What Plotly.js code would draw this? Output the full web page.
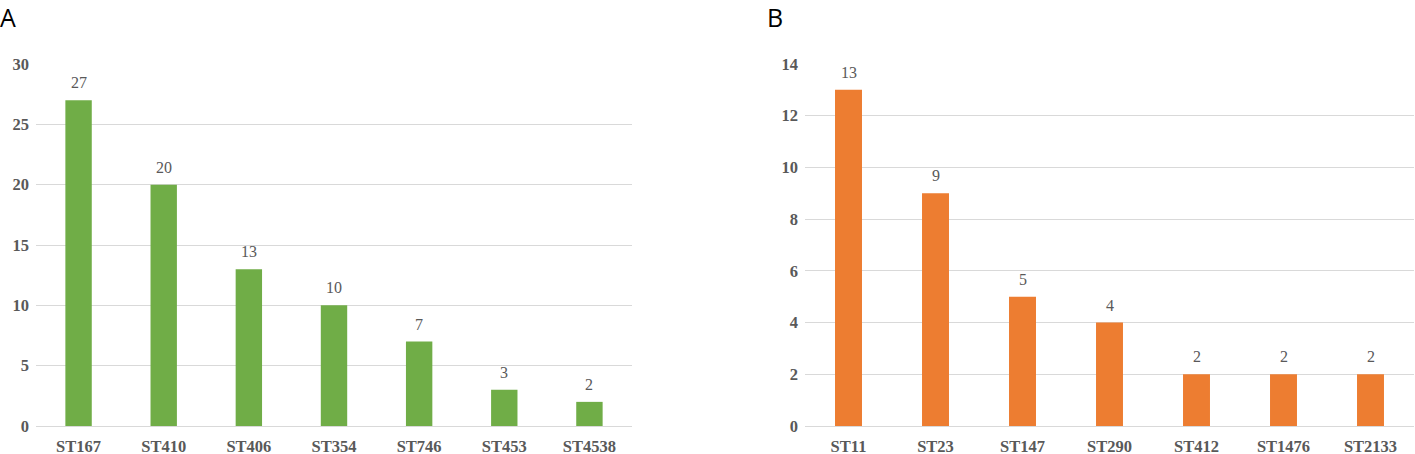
<!DOCTYPE html>
<html>
<head>
<meta charset="utf-8">
<script src="https://cdn.plot.ly/plotly-3.0.1.min.js"></script>
<style>
  body { margin: 0; background: #fff; }
  #chart { width: 1415px; height: 454px; }
</style>
</head>
<body>
<div id="chart"></div>
<script>
// panel A
let catsA = ["ST167", "ST410", "ST406", "ST354", "ST746", "ST453", "ST4538"];
let valsA = [27, 20, 13, 10, 7, 3, 2];
// panel B
let catsB = ["ST11", "ST23", "ST147", "ST290", "ST412", "ST1476", "ST2133"];
let valsB = [13, 9, 5, 4, 2, 2, 2];

const W = 1415;
const SERIF = "Liberation Serif, Times New Roman, serif";
const GREY = "#595959";

let labelFont = { family: SERIF, size: 16, color: GREY };
let tickFont = { family: SERIF, size: 16.5, color: GREY, weight: "bold" };

let traceA = {
    x: catsA, y: valsA, type: 'bar',
    xaxis: 'x', yaxis: 'y',
    marker: { color: '#70ad47' },
    hoverinfo: 'x+y'
};

let traceB = {
    x: catsB, y: valsB, type: 'bar',
    xaxis: 'x2', yaxis: 'y2',
    marker: { color: '#ed7d31' },
    hoverinfo: 'x+y'
};

function yAxis(max, step) {
    return {
        range: [0, max], dtick: step, tick0: 0,
        showgrid: true, gridcolor: '#d9d9d9', gridwidth: 1,
        zeroline: true, zerolinecolor: '#d9d9d9', zerolinewidth: 1,
        showline: false, ticks: '', tickfont: tickFont,
        ticklabelstandoff: 6, fixedrange: true
    };
}

function xAxis(d0, d1, anchor) {
    return {
        domain: [d0 / W, d1 / W], anchor: anchor,
        showgrid: false, zeroline: false, showline: false, ticks: '',
        tickfont: tickFont, ticklabelstandoff: 8, fixedrange: true
    };
}

// value labels above the bars
function valueLabels(cats, vals, xr, yr) {
    return cats.map((c, i) => ({
        x: c, y: vals[i], xref: xr, yref: yr,
        text: String(vals[i]), showarrow: false,
        yanchor: 'bottom', yshift: 7, font: labelFont
    }));
}

let panelLetter = (t, x) => ({
    text: t, xref: 'paper', yref: 'paper', x: x / W, y: 1, yshift: 66,
    xanchor: 'left', yanchor: 'top', showarrow: false,
    font: { family: "Open Sans, sans-serif", size: 25, color: '#000' }
});

let layout = {
    width: W, height: 454,
    margin: { l: 0, r: 0, t: 64, b: 28 },
    paper_bgcolor: '#fff', plot_bgcolor: '#fff',
    showlegend: false,
    bargap: 0.69,
    xaxis: xAxis(36, 632, 'y'),
    yaxis: yAxis(30, 5),
    xaxis2: xAxis(805, 1414, 'y2'),
    yaxis2: Object.assign(yAxis(14, 2), { anchor: 'x2' }),
    annotations: [
        panelLetter("A", -2),
        panelLetter("B", 765)
    ].concat(valueLabels(catsA, valsA, 'x', 'y'), valueLabels(catsB, valsB, 'x2', 'y2'))
};

Plotly.newPlot('chart', [traceA, traceB], layout, { displayModeBar: false, staticPlot: true });
</script>
</body>
</html>
